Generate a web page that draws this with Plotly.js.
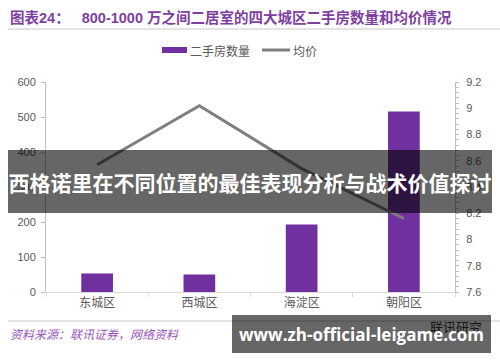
<!DOCTYPE html>
<html>
<head>
<meta charset="utf-8">
<script src="https://cdn.plot.ly/plotly-3.0.1.min.js"></script>
<style>
  html, body { margin: 0; padding: 0; background: #ffffff; }
  #chart { width: 500px; height: 362px; }
</style>
</head>
<body>
<div id="chart"></div>
<script>
// Four districts, listing counts and average price (万/㎡)
const districts = ['东城区', '西城区', '海淀区', '朝阳区'];
const listingCounts = [53, 50, 193, 516];
const avgPrices = [8.57, 9.02, 8.54, 8.16];

const countTicks = [0, 100, 200, 300, 400, 500, 600];
const priceTicks = [7.6, 7.8, 8, 8.2, 8.4, 8.6, 8.8, 9, 9.2];

const W = 500, H = 362;
const M = { l: 46, r: 45, t: 82, b: 70 };
const plotW = W - M.l - M.r, plotH = H - M.t - M.b;
// pixel -> paper fraction helpers for the decorations
const fx = px => (px - M.l) / plotW;
const fy = py => 1 - (py - M.t) / plotH;

const FONT = 'Liberation Sans, Noto Sans CJK SC, sans-serif';
const CJK = 'Noto Sans CJK SC, Liberation Sans, sans-serif';
const PURPLE = '#7030A0';
const GREY_LINE = '#7f7f7f';

const traces = [
  {
    type: 'bar', name: '二手房数量',
    x: districts, y: listingCounts,
    marker: { color: PURPLE },
    width: 0.31,
    yaxis: 'y', showlegend: false, hoverinfo: 'x+y'
  },
  {
    type: 'scatter', mode: 'lines', name: '均价',
    x: districts, y: avgPrices,
    line: { color: GREY_LINE, width: 3 },
    yaxis: 'y2', showlegend: false
  }
];

const axisFont = { family: FONT, size: 11, color: '#595959' };

const layout = {
  width: W, height: H,
  margin: M,
  paper_bgcolor: '#ffffff', plot_bgcolor: '#ffffff',
  font: { family: FONT, color: '#595959' },
  showlegend: false,
  bargap: 0.69,
  xaxis: {
    type: 'category',
    showline: true, linecolor: '#d9d9d9', linewidth: 1,
    ticks: 'outside', tickson: 'boundaries', ticklen: 4, tickcolor: '#d9d9d9',
    showgrid: false, zeroline: false,
    tickfont: { family: CJK, size: 12, color: '#595959' },
    range: [-0.5, 3.5]
  },
  yaxis: {
    range: [0, 600], tickvals: countTicks,
    showline: true, linecolor: '#bfbfbf', linewidth: 1,
    ticks: 'outside', ticklen: 4, tickcolor: '#bfbfbf',
    showgrid: false, zeroline: false,
    tickfont: axisFont, ticklabelstandoff: 3
  },
  yaxis2: {
    overlaying: 'y', side: 'right',
    range: [7.6, 9.2], tickvals: priceTicks,
    showline: true, linecolor: '#bfbfbf', linewidth: 1,
    ticks: 'outside', ticklen: 3, tickcolor: '#bfbfbf',
    minor: { dtick: 0.04, ticks: 'outside', ticklen: 3, tickcolor: '#bfbfbf' },
    showgrid: false, zeroline: false,
    tickfont: axisFont, ticklabelstandoff: 5
  },
  shapes: [
    // rule under the heading
    { type: 'line', xref: 'paper', yref: 'paper', x0: fx(8), x1: fx(500), y0: fy(29), y1: fy(29),
      line: { color: '#e3e3e3', width: 2 } },
    // rule above the source note
    { type: 'line', xref: 'paper', yref: 'paper', x0: fx(8), x1: fx(500), y0: fy(321), y1: fy(321),
      line: { color: '#e3e3e3', width: 2 } },
    // legend swatches
    { type: 'rect', xref: 'paper', yref: 'paper', x0: fx(162), x1: fx(187), y0: fy(47), y1: fy(53),
      fillcolor: PURPLE, line: { width: 0 } },
    { type: 'line', xref: 'paper', yref: 'paper', x0: fx(262), x1: fx(290), y0: fy(50), y1: fy(50),
      line: { color: GREY_LINE, width: 3 } }
  ],
  annotations: [
    { xref: 'paper', yref: 'paper', x: fx(8), y: fy(17), xanchor: 'left', yanchor: 'middle',
      showarrow: false,
      text: '<b>图表24：   800-1000 万之间二居室的四大城区二手房数量和均价情况</b>',
      font: { family: FONT, size: 14.5, color: '#7E3FA0' } },
    { xref: 'paper', yref: 'paper', x: fx(188), y: fy(50), xanchor: 'left', yanchor: 'middle',
      showarrow: false, text: '二手房数量', font: { family: CJK, size: 12, color: '#595959' } },
    { xref: 'paper', yref: 'paper', x: fx(291), y: fy(50), xanchor: 'left', yanchor: 'middle',
      showarrow: false, text: '均价', font: { family: CJK, size: 12, color: '#595959' } },
    { xref: 'paper', yref: 'paper', x: fx(8), y: fy(333), xanchor: 'left', yanchor: 'middle',
      showarrow: false, text: '<i>资料来源：联讯证券，网络资料</i>',
      font: { family: CJK, size: 12, color: '#9a55c0' } },
    { xref: 'paper', yref: 'paper', x: fx(428), y: fy(326), xanchor: 'left', yanchor: 'middle',
      showarrow: false, text: '联讯研究', font: { family: CJK, size: 13, color: '#404040' } },
    // headline band across the middle
    { xref: 'paper', yref: 'paper', x: fx(8), y: fy(150), xanchor: 'left', yanchor: 'top',
      showarrow: false, width: 484, height: 63, borderpad: 0, borderwidth: 0,
      bgcolor: 'rgba(0,0,0,0.6)', align: 'center', valign: 'middle',
      text: '<b>西格诺里在不同位置的最佳表现分析与战术价值探讨</b>',
      font: { family: CJK, size: 21, color: '#ffffff' } },
    // site band at the bottom
    { xref: 'paper', yref: 'paper', x: fx(232), y: fy(315), xanchor: 'left', yanchor: 'top',
      showarrow: false, width: 259, height: 38, borderpad: 0, borderwidth: 0,
      bgcolor: 'rgba(0,0,0,0.6)', align: 'center', valign: 'middle',
      text: '<b>www.zh-official-leigame.com</b>',
      font: { family: 'Open Sans, Noto Sans, sans-serif', size: 17, color: '#ffffff' } }
  ]
};

Plotly.newPlot('chart', traces, layout, { displayModeBar: false, staticPlot: true });
</script>
</body>
</html>
